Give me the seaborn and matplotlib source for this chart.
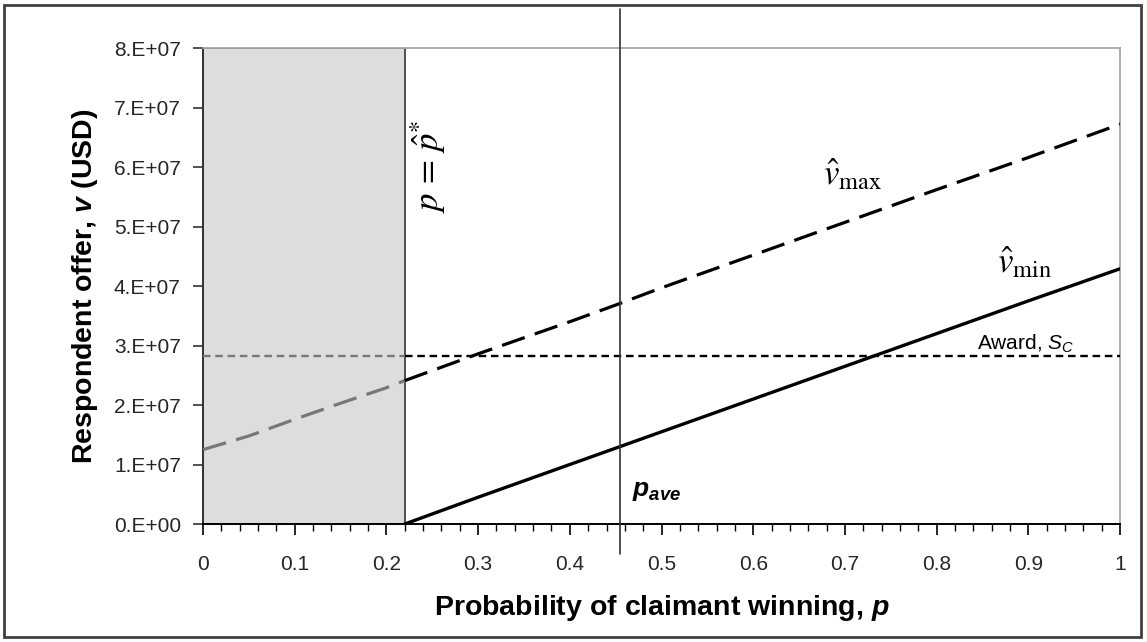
import numpy as np
import pandas as pd
import matplotlib
matplotlib.use("Agg")
import matplotlib.pyplot as plt
from matplotlib.patches import Rectangle
from matplotlib.ticker import MultipleLocator, FixedLocator
import seaborn as sns

# ---------------- data ----------------
p_vmax = [0.0, 0.05, 0.1, 0.15, 0.2, 0.22, 0.3, 0.4, 0.45, 0.5, 0.6, 0.7, 0.8, 0.9, 1.0]
v_max = [1.25e7, 1.48e7, 1.76e7, 2.03e7, 2.29e7, 2.41e7, 2.86e7, 3.40e7, 3.68e7,
         3.97e7, 4.52e7, 5.07e7, 5.62e7, 6.16e7, 6.72e7]
p_vmin = [0.22, 0.3, 0.4, 0.5, 0.6, 0.7, 0.8, 0.9, 1.0]
v_min = [0.0, 0.45e7, 1.0e7, 1.55e7, 2.1e7, 2.65e7, 3.2e7, 3.75e7, 4.29e7]
award = 2.83e7
p_star = 0.22
p_ave = 0.455
x_ticks = [0, 0.1, 0.2, 0.3, 0.4, 0.5, 0.6, 0.7, 0.8, 0.9, 1.0]
x_tick_labels = ["0", "0.1", "0.2", "0.3", "0.4", "0.5", "0.6", "0.7", "0.8", "0.9", "1"]
y_ticks = [0, 1e7, 2e7, 3e7, 4e7, 5e7, 6e7, 7e7, 8e7]
y_tick_labels = ["0.E+00", "1.E+07", "2.E+07", "3.E+07", "4.E+07",
                 "5.E+07", "6.E+07", "7.E+07", "8.E+07"]

# ---------------- style ----------------
sns.set_theme(style="white")
plt.rcParams["font.family"] = ["Liberation Sans", "DejaVu Sans"]
plt.rcParams["mathtext.fontset"] = "custom"
plt.rcParams["mathtext.rm"] = "Liberation Sans"
plt.rcParams["mathtext.it"] = "Liberation Sans:italic"
plt.rcParams["mathtext.bf"] = "Liberation Sans:bold"
plt.rcParams["mathtext.bfit"] = "Liberation Sans:bold:italic"

fig = plt.figure(figsize=(11.47, 6.42), dpi=100)
fig.patch.set_facecolor("white")
ax = fig.add_axes([0.177, 0.1838, 0.7995, 0.7414])
ax.set_facecolor("white")

df_max = pd.DataFrame({"p": p_vmax, "v": v_max})
df_min = pd.DataFrame({"p": p_vmin, "v": v_min})
in_shade = df_max[df_max["p"] <= p_star]
out_shade = df_max[df_max["p"] >= p_star]

# shaded region
ax.add_patch(Rectangle((0, 0), p_star, y_ticks[-1], facecolor="#dddddd",
                       edgecolor="#333333", lw=1.2, zorder=1))

dash_max = (0, (7.5, 3.3))
dot_award = (0, (3.2, 2.0))

# award line
sns.lineplot(x=[0, p_star], y=[award, award], ax=ax, color="#777777",
             lw=1.7, linestyle=dot_award, zorder=3)
sns.lineplot(x=[p_star, 1.0], y=[award, award], ax=ax, color="black",
             lw=1.7, linestyle=dot_award, zorder=3)

# v max
sns.lineplot(data=in_shade, x="p", y="v", ax=ax, color="#777777", lw=2.3,
             linestyle=dash_max, zorder=4)
sns.lineplot(data=out_shade, x="p", y="v", ax=ax, color="black", lw=2.3,
             linestyle=dash_max, zorder=4)
# v min
sns.lineplot(data=df_min, x="p", y="v", ax=ax, color="black", lw=2.4, zorder=4)

# p_ave vertical line
ax.axvline(p_ave, ymin=-0.063, ymax=1.082, color="#333333", lw=1.2,
           clip_on=False, zorder=5)

ax.set_xlim(0, 1)
ax.set_ylim(0, 8e7)
ax.xaxis.set_major_locator(FixedLocator(x_ticks))
ax.set_xticklabels(x_tick_labels)
ax.xaxis.set_minor_locator(MultipleLocator(0.02))
ax.yaxis.set_major_locator(FixedLocator(y_ticks))
ax.set_yticklabels(y_tick_labels)

ax.tick_params(axis="x", which="major", direction="out", length=8, width=1.2,
               color="black", labelsize=15, pad=14, bottom=True)
ax.tick_params(axis="x", which="minor", direction="out", length=5, width=1.0,
               color="black", bottom=True)
ax.tick_params(axis="y", which="major", direction="out", length=7, width=1.2,
               color="#333333", labelsize=15, pad=9, left=True)

for s in ["top", "right"]:
    ax.spines[s].set_color("#a6a6a6")
    ax.spines[s].set_linewidth(1.3)
ax.spines["left"].set_color("#333333")
ax.spines["left"].set_linewidth(1.4)
ax.spines["bottom"].set_color("black")
ax.spines["bottom"].set_linewidth(1.4)

ax.set_xlabel(r"Probability of claimant winning, $\mathbfit{p}$",
              fontsize=20.5, fontweight="bold", color="black")
ax.xaxis.label.set_va("center")
ax.xaxis.set_label_coords(0.5, -0.176)
ax.set_ylabel(r"Respondent offer, $\mathbfit{v}$ (USD)",
              fontsize=20.5, fontweight="bold", color="black")
ax.yaxis.label.set_va("center")
ax.yaxis.set_label_coords(-0.1287, 0.5)

# annotations
ax.text(0.676, 5.69e7, r"$\hat{v}_{\mathrm{max}}$", fontsize=25,
        math_fontfamily="stix", ha="left", va="baseline", color="black")
ax.text(0.866, 4.21e7, r"$\hat{v}_{\mathrm{min}}$", fontsize=25,
        math_fontfamily="stix", ha="left", va="baseline", color="black")
ax.text(0.245, 6.0e7, r"$p\,=\,\hat{p}^{*}$", fontsize=25,
        math_fontfamily="stix", rotation=90, ha="center", va="center",
        color="black")
ax.text(0.844, 2.93e7, r"Award, $\mathit{S}_{\mathit{C}}$", fontsize=15,
        ha="left", va="baseline", color="black")
ax.text(0.468, 0.47e7, r"$\mathbfit{p}_{\mathbfit{ave}}$", fontsize=19,
        ha="left", va="baseline", color="black")

# figure border
fig.patches.append(Rectangle((4 / 1147, 5 / 642), 1137 / 1147, 632 / 642,
                             transform=fig.transFigure, fill=False,
                             edgecolor="#404040", lw=2.0))

fig.savefig("out.png", dpi=100, facecolor="white")
